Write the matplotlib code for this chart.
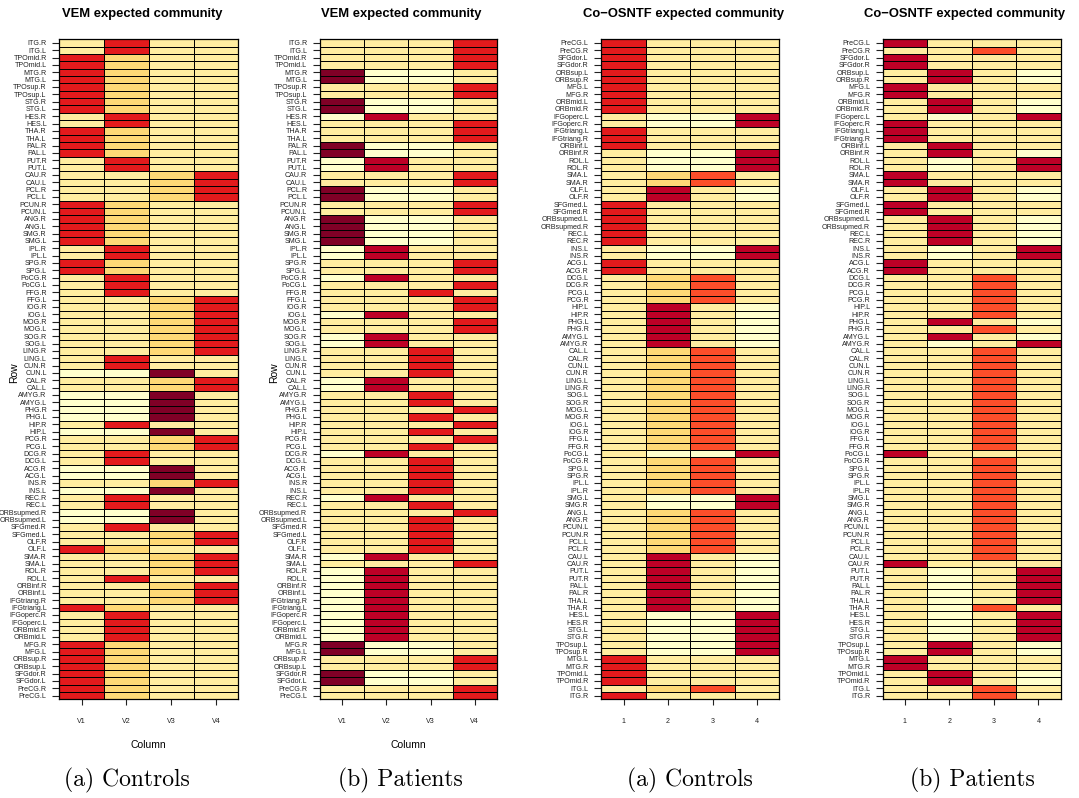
import numpy as np
import matplotlib
matplotlib.use("Agg")
import matplotlib.pyplot as plt
from matplotlib.colors import ListedColormap, BoundaryNorm

# AAL regions in atlas order (PreCG.L first)
aal = ["PreCG.L", "PreCG.R", "SFGdor.L", "SFGdor.R", "ORBsup.L", "ORBsup.R",
       "MFG.L", "MFG.R", "ORBmid.L", "ORBmid.R", "IFGoperc.L", "IFGoperc.R",
       "IFGtriang.L", "IFGtriang.R", "ORBinf.L", "ORBinf.R", "ROL.L", "ROL.R",
       "SMA.L", "SMA.R", "OLF.L", "OLF.R", "SFGmed.L", "SFGmed.R",
       "ORBsupmed.L", "ORBsupmed.R", "REC.L", "REC.R", "INS.L", "INS.R",
       "ACG.L", "ACG.R", "DCG.L", "DCG.R", "PCG.L", "PCG.R", "HIP.L", "HIP.R",
       "PHG.L", "PHG.R", "AMYG.L", "AMYG.R", "CAL.L", "CAL.R", "CUN.L", "CUN.R",
       "LING.L", "LING.R", "SOG.L", "SOG.R", "MOG.L", "MOG.R", "IOG.L", "IOG.R",
       "FFG.L", "FFG.R", "PoCG.L", "PoCG.R", "SPG.L", "SPG.R", "IPL.L", "IPL.R",
       "SMG.L", "SMG.R", "ANG.L", "ANG.R", "PCUN.L", "PCUN.R", "PCL.L", "PCL.R",
       "CAU.L", "CAU.R", "PUT.L", "PUT.R", "PAL.L", "PAL.R", "THA.L", "THA.R",
       "HES.L", "HES.R", "STG.L", "STG.R", "TPOsup.L", "TPOsup.R", "MTG.L",
       "MTG.R", "TPOmid.L", "TPOmid.R", "ITG.L", "ITG.R"]

# colour level per cell, one string per row (top to bottom), one char per column
# p=pale y=light yellow o=yellow-orange r=orange-red R=red c=crimson d=dark red
vem_controls = [
    "yRyy", "yRyy", "Royy", "Royy", "Royy", "Royy", "Royy", "Royy", "Royy", "Royy",
    "yRyy", "yRyy", "Royy", "Royy", "Royy", "Royy", "yRyy", "yRyy", "yyoR", "yyoR",
    "yyoR", "yyoR", "Royy", "Royy", "Royy", "Royy", "Royy", "Royy", "yRyy", "yRyy",
    "Royy", "Royy", "yRyy", "yRyy", "yRyy", "yyoR", "yyoR", "yyoR", "yyoR", "yyoR",
    "yyoR", "yyoR", "yyoR", "yRyy", "yRyy", "ppdy", "yyoR", "yyoR", "ppdy", "ppdy",
    "ppdy", "ppdy", "yRyy", "ppdy", "yyoR", "yyoR", "yRyy", "yRyy", "ppdy", "ppdy",
    "yyoR", "ppdy", "yRyy", "yRyy", "ppdy", "ppdy", "yRyy", "yyoR", "yyoR", "Royy",
    "yyoR", "yyoR", "yyoR", "yRyy", "yyoR", "yyoR", "yyoR", "Royy", "yRyy", "yRyy",
    "yRyy", "yRyy", "Royy", "Royy", "Royy", "Royy", "Royy", "Royy", "Royy", "Royy"]

vem_patients = [
    "yyyR", "yyyR", "yyyR", "yyyR", "dppy", "dppy", "yyyR", "yyyR", "dppy", "dppy",
    "pcyy", "yyyR", "yyyR", "yyyR", "dppy", "dppy", "pcyy", "pcyy", "yyyR", "yyyR",
    "dppy", "dppy", "yyyR", "yyyR", "dppy", "dppy", "dppy", "dppy", "pcyy", "pcyy",
    "yyyR", "yyyR", "pcyy", "yyyR", "yyRy", "yyyR", "yyyR", "pcyy", "yyyR", "yyyR",
    "pcyy", "pcyy", "yyRy", "yyRy", "yyRy", "yyRy", "pcyy", "pcyy", "yyRy", "yyRy",
    "yyyR", "yyRy", "yyyR", "yyRy", "yyyR", "yyRy", "pcyy", "yyRy", "yyRy", "yyRy",
    "yyRy", "yyRy", "pcyy", "yyRy", "yyyR", "yyRy", "yyRy", "yyRy", "yyRy", "yyRy",
    "pcyy", "yyyR", "pcyy", "pcyy", "pcyy", "pcyy", "pcyy", "pcyy", "pcyy", "pcyy",
    "pcyy", "pcyy", "dppy", "dppy", "yyyR", "yyyR", "dppy", "dppy", "yyyR", "yyyR"]

osntf_controls = [
    "Ryyy", "Ryyy", "Ryyy", "Ryyy", "Ryyy", "Ryyy", "Ryyy", "Ryyy", "Ryyy", "Ryyy",
    "yppc", "yppc", "Ryyy", "Ryyy", "Ryyy", "yppc", "yppc", "yppc", "yory", "yory",
    "ycyp", "ycyp", "Ryyy", "Ryyy", "Ryyy", "Ryyy", "Ryyy", "Ryyy", "yppc", "yppc",
    "Ryyy", "Ryyy", "yory", "yory", "yory", "yory", "ycyp", "ycyp", "ycyp", "ycyp",
    "ycyp", "ycyp", "yory", "yory", "yory", "yory", "yory", "yory", "yory", "yory",
    "yory", "yory", "yory", "yory", "yory", "yory", "yppc", "yory", "yory", "yory",
    "yory", "yory", "yppc", "yppc", "yory", "yory", "yory", "yory", "yory", "yory",
    "ycyp", "ycyp", "ycyp", "ycyp", "ycyp", "ycyp", "ycyp", "ycyp", "yppc", "yppc",
    "yppc", "yppc", "yppc", "yppc", "Ryyy", "Ryyy", "Ryyy", "Ryyy", "yory", "Ryyy"]

osntf_patients = [
    "cyyy", "yyry", "cyyy", "cyyy", "ycyp", "ycyp", "cyyy", "cyyy", "ycyp", "ycyp",
    "ypyc", "cyyy", "cyyy", "cyyy", "ycyy", "ycyp", "ypyc", "ypyc", "cyyy", "cyyy",
    "ycyp", "ycyp", "cyyy", "cyyy", "ycyp", "ycyp", "ycyp", "ycyp", "ypyc", "ypyc",
    "cyyy", "cyyy", "yyry", "yyry", "yyry", "yyry", "yyry", "yyry", "ycyp", "yyry",
    "ycyp", "ypyc", "yyry", "yyry", "yyry", "yyry", "yyry", "yyry", "yyry", "yyry",
    "yyry", "yyry", "yyry", "yyry", "yyry", "yyry", "cyyy", "yyry", "yyry", "yyry",
    "yyry", "yyry", "yyry", "yyry", "yyry", "yyry", "yyry", "yyry", "yyry", "yyry",
    "yyry", "cyyy", "ypyc", "ypyc", "ypyc", "ypyc", "ypyc", "ypry", "ypyc", "ypyc",
    "ypyc", "ypyc", "ycyp", "ycyp", "cyyy", "cyyy", "ycyp", "ycyp", "yyry", "yyry"]

vem_cols = ["V1", "V2", "V3", "V4"]
osntf_cols = ["1", "2", "3", "4"]

level = {"p": 0, "y": 1, "o": 2, "r": 3, "R": 4, "c": 5, "d": 6}
cmap = ListedColormap(["#FFFFCC", "#FFEDA0", "#FED976", "#FC4E2A",
                       "#E31A1C", "#BD0026", "#800026"])
norm = BoundaryNorm(np.arange(-0.5, 7.5, 1), cmap.N)

W, H = 1079, 798
fig = plt.figure(figsize=(W / 100, H / 100), dpi=100)
sans = "Liberation Sans"

panels = [
    # left px, width px, rows, labels, xlabels, title, caption, caption x, axis labels
    (59.3, 179, vem_controls, aal[::-1], vem_cols, "VEM expected community", "(a) Controls", 127, True),
    (319.7, 177.3, vem_patients, aal[::-1], vem_cols, "VEM expected community", "(b) Patients", 400, True),
    (601.3, 178, osntf_controls, aal, osntf_cols, "Co\u2212OSNTF expected community", "(a) Controls", 690, False),
    (882.7, 178, osntf_patients, aal, osntf_cols, "Co\u2212OSNTF expected community", "(b) Patients", 972, False),
]

top, bottom = 39.3, 699.3
for left, width, rows, labels, xlabels, title, caption, cap_x, axlab in panels:
    ax = fig.add_axes([left / W, 1 - bottom / H, width / W, (bottom - top) / H])
    Z = np.array([[level[ch] for ch in r] for r in rows])
    ax.pcolormesh(Z, cmap=cmap, norm=norm, edgecolors="black", linewidth=0.6)
    ax.set_xlim(0, 4)
    ax.set_ylim(90, 0)
    ax.set_yticks(np.arange(90) + 0.5, labels, fontsize=5.1, family=sans)
    ax.set_xticks(np.arange(4) + 0.5, xlabels, fontsize=5.1, family=sans)
    ax.tick_params(axis="y", length=4.8, width=0.8, pad=4.3, colors="#222222")
    ax.tick_params(axis="x", length=4.3, width=0.8, pad=9.5, colors="#222222")
    for s in ax.spines.values():
        s.set_linewidth(0.9)
    cx = (left + width / 2) / W
    fig.text(cx - 7 / W, 1 - 14 / H, title, ha="center", va="center",
             fontsize=9.4, fontweight="bold", family=sans)
    fig.text(cap_x / W, 1 - 780 / H, caption, ha="center", va="center",
             fontsize=17, family="cmr10")
    if axlab:
        fig.text(cx, 1 - 745 / H, "Column", ha="center", va="center",
                 fontsize=7.5, family=sans)
        fig.text((left - 45.5) / W, 1 - 373 / H, "Row", ha="center", va="center",
                 rotation=90, fontsize=7.5, family=sans)

fig.savefig("out.png", dpi=100)
